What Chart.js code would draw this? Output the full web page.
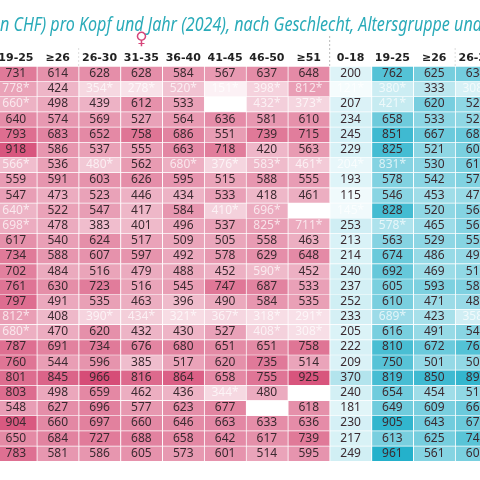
<!DOCTYPE html>
<html><head><meta charset="utf-8">
<script src="https://cdn.jsdelivr.net/npm/chart.js@4"></script>
<style>
html,body{margin:0;padding:0;width:480px;height:480px;overflow:hidden;background:#fff}
#wrap{position:absolute;left:-5px;top:0;width:502px;height:480px}
</style></head><body>
<div id="wrap"><canvas id="c"></canvas></div>
<script>
const columns = ['19-25','≥26','26-30','31-35','36-40','41-45','46-50','≥51','0-18','19-25','≥26','26-30'];
const group = ['f','f','f','f','f','f','f','f','m','m','m','m'];
const f1925 = [731,778,660,640,793,918,566,559,547,640,698,617,734,702,761,797,812,680,787,760,801,803,548,904,650,783];
const fGe26 = [614,424,498,574,683,586,536,591,473,522,478,540,588,484,630,491,408,470,691,544,845,498,627,660,684,581];
const f2630 = [628,354,439,569,652,537,480,603,523,547,383,624,607,516,723,535,390,620,734,596,966,659,696,697,727,586];
const f3135 = [628,278,612,527,758,555,562,626,446,417,401,517,597,479,516,463,434,432,676,385,816,462,577,660,688,605];
const f3640 = [584,520,533,564,686,663,680,595,434,584,496,509,492,488,545,396,321,430,680,517,864,436,623,646,658,573];
const f4145 = [567,151,null,636,551,718,376,515,533,410,537,505,578,452,747,490,367,527,651,620,658,344,677,663,642,601];
const f4650 = [637,398,432,581,739,420,583,588,418,696,825,558,629,590,687,584,318,408,651,735,755,480,null,633,617,514];
const fGe51 = [648,812,373,610,715,563,461,555,461,null,711,463,648,452,533,535,291,308,758,514,925,null,618,636,739,595];
const m018 = [200,121,207,234,245,229,204,193,115,145,253,213,214,240,237,252,233,205,222,209,370,240,181,230,217,249];
const m1925 = [762,380,421,658,851,825,831,578,546,828,578,563,674,692,605,610,689,616,810,750,819,654,649,905,613,961];
const mGe26 = [625,333,620,533,667,521,530,542,453,520,465,529,486,469,593,471,423,491,672,501,850,454,609,643,625,561];
const m2630 = [634,308,523,522,680,607,613,578,477,564,563,559,496,512,587,482,358,543,767,507,898,511,668,673,741,608];
const uncertain = [[1,0],[1,2],[1,3],[1,4],[1,5],[1,6],[1,7],[1,8],[1,9],[1,11],[2,0],[2,6],[2,7],[2,9],
 [6,0],[6,2],[6,4],[6,5],[6,6],[6,7],[6,8],[6,9],[9,0],[9,5],[9,6],[9,8],[10,0],[10,6],[10,7],[10,9],[13,6],
 [16,0],[16,2],[16,3],[16,4],[16,5],[16,6],[16,7],[16,9],[16,11],[17,0],[17,6],[17,7],[21,5]];
const cols = [f1925,fGe26,f2630,f3135,f3640,f4145,f4650,fGe51,m018,m1925,mGe26,m2630];
const nRows = f1925.length;
const isUnc = (r,c)=>uncertain.some(p=>p[0]===r&&p[1]===c);

function mix(a,b,t){return a.map((x,i)=>Math.round(x+(b[i]-x)*t));}
function cellColor(v,c,r){
  if(v==null) return 'rgba(0,0,0,0)';
  let t=Math.max(0,Math.min(1,(v-120)/850));
  let rgb = group[c]==='f'? mix([251,240,244],[214,76,118],t) : mix([240,250,252],[34,176,202],t);
  if(isUnc(r,c)) rgb = mix(rgb,[255,255,255],0.35);
  return `rgb(${rgb.join(',')})`;
}
const datasets = [];
for(let r=0;r<nRows;r++){
  datasets.push({
    data: cols.map(()=>[r,r+1]),
    backgroundColor: cols.map((col,c)=>cellColor(col[r],c,r)),
    borderColor:'rgba(255,255,255,0.8)', borderWidth:{top:1,bottom:0,left:1,right:0}, borderSkipped:false,
    barPercentage:1, categoryPercentage:1, grouped:false
  });
}
const overlay = {
  id:'overlay',
  afterDatasetsDraw(chart){
    const {ctx,scales:{x,y}}=chart;
    ctx.save();
    ctx.textAlign='center'; ctx.textBaseline='middle';
    ctx.font='12px "Noto Sans"';
    for(let c=0;c<cols.length;c++){
      for(let r=0;r<nRows;r++){
        const v=cols[c][r]; if(v==null) continue;
        const unc=isUnc(r,c);
        ctx.fillStyle= unc? 'rgba(255,255,255,0.7)':'#3b2a30';
        ctx.fillText(v+(unc?'*':''), x.getPixelForValue(c), y.getPixelForValue(r+0.5));
      }
    }
    ctx.font='bold 11px "DejaVu Sans"'; ctx.fillStyle='#222';
    columns.forEach((l,c)=>ctx.fillText(l,x.getPixelForValue(c),58));
    const title='n CHF) pro Kopf und Jahr (2024), nach Geschlecht, Altersgruppe und';
    ctx.font='italic 19px "Noto Sans"'; ctx.fillStyle='#2aabb9'; ctx.textAlign='left';
    const w=ctx.measureText(title).width;
    ctx.save(); ctx.translate(5,26); ctx.scale(482/w,1); ctx.fillText(title,0,0); ctx.restore();
    ctx.font='17px "DejaVu Sans"'; ctx.fillStyle='#d6457a'; ctx.textAlign='center';
    ctx.fillText('♀',x.getPixelForValue(3),40);
    ctx.strokeStyle='#bbb'; ctx.setLineDash([2,2]); ctx.lineWidth=1;
    const xs=(x.getPixelForValue(7)+x.getPixelForValue(8))/2;
    ctx.beginPath(); ctx.moveTo(xs,36); ctx.lineTo(xs,66); ctx.stroke();
    ctx.strokeStyle='#ddd';
    [1.5,10.5].forEach(p=>{const xp=(x.getPixelForValue(Math.floor(p))+x.getPixelForValue(Math.ceil(p)))/2;
      ctx.beginPath(); ctx.moveTo(xp,48); ctx.lineTo(xp,66); ctx.stroke();});
    ctx.restore();
  }
};
new Chart(document.getElementById('c'),{
  type:'bar',
  data:{labels:columns,datasets},
  options:{
    responsive:true, maintainAspectRatio:false, animation:false,
    layout:{padding:{top:66,bottom:19,left:0,right:0}},
    plugins:{legend:{display:false},tooltip:{enabled:false}},
    scales:{
      x:{display:false},
      y:{display:false,min:0,max:nRows,reverse:true}
    }
  },
  plugins:[overlay]
});
</script></body></html>
